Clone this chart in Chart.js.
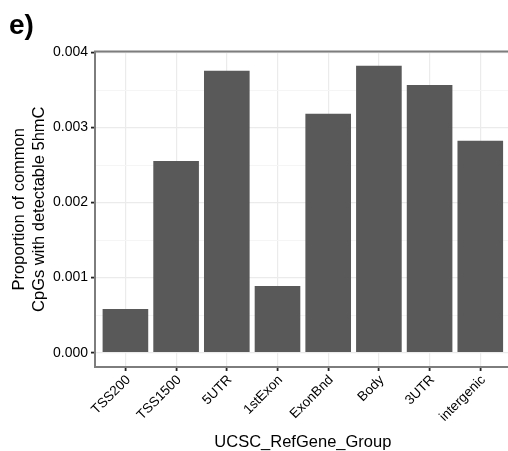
<!DOCTYPE html>
<html>
<head>
<meta charset="utf-8">
<script src="https://cdn.jsdelivr.net/npm/chart.js@4/dist/chart.umd.min.js"></script>
<style>
  html, body { margin: 0; padding: 0; overflow: hidden; background: #fff; }
  #wrap { width: 520px; height: 451px; }
</style>
</head>
<body>
<div id="wrap"><canvas id="c" width="520" height="451"></canvas></div>
<script>
// Gene-region categories and the proportion of common CpGs with detectable 5hmC
const groups = ['TSS200', 'TSS1500', '5UTR', '1stExon', 'ExonBnd', 'Body', '3UTR', 'intergenic'];
const proportion = [0.000583, 0.002556, 0.003756, 0.000889, 0.003183, 0.003823, 0.003569, 0.002823];
const yMajorTicks = [0, 0.001, 0.002, 0.003, 0.004];
const yMinorTicks = [0.0005, 0.0015, 0.0025, 0.0035];

const FONT = '"Liberation Sans", Arial, Helvetica, sans-serif';
const isMinor = v => Math.abs(v * 1000 - Math.round(v * 1000)) > 1e-6;

// Panel border, drawn on top of the bars like a ggplot panel frame
const panelBorder = {
  id: 'panelBorder',
  afterDatasetsDraw(chart) {
    const { ctx, chartArea: a } = chart;
    ctx.save();
    ctx.strokeStyle = '#7d7d7d';
    ctx.lineWidth = 2;
    ctx.strokeRect(a.left, a.top, a.right - a.left, a.bottom - a.top);
    ctx.restore();
  }
};

// Panel tag and axis titles
const titles = {
  id: 'titles',
  afterDraw(chart) {
    const { ctx, chartArea: a } = chart;
    ctx.save();
    ctx.fillStyle = '#000';
    ctx.font = 'bold 28px ' + FONT;
    ctx.textAlign = 'left';
    ctx.textBaseline = 'alphabetic';
    ctx.fillText('e)', 9, 34);

    ctx.font = '16.5px ' + FONT;
    ctx.textAlign = 'center';
    ctx.fillText('UCSC_RefGene_Group', (a.left + a.right) / 2, 447);

    const cy = (a.top + a.bottom) / 2;
    ctx.translate(0, cy);
    ctx.rotate(-Math.PI / 2);
    ctx.fillText('Proportion of common', 0, 23.5);
    ctx.fillText('CpGs with detectable 5hmC', 0, 44);
    ctx.restore();
  }
};

new Chart(document.getElementById('c'), {
  type: 'bar',
  data: {
    datasets: [{
      data: proportion.map((v, i) => ({ x: i, y: v })),
      backgroundColor: '#595959',
      borderWidth: 0,
      categoryPercentage: 1,
      barPercentage: 0.9
    }]
  },
  options: {
    responsive: false,
    animation: false,
    devicePixelRatio: 1,
    layout: { padding: { top: 51.5, right: 9.3, left: 0, bottom: 0 } },
    plugins: { legend: { display: false }, tooltip: { enabled: false } },
    scales: {
      x: {
        type: 'linear',
        offset: false,
        min: -0.6,
        max: groups.length - 1 + 0.6,
        afterBuildTicks: s => { s.ticks = groups.map((_, i) => ({ value: i })); },
        afterFit: s => { s.height = 84; s.paddingLeft = 0; s.paddingRight = 0; },
        ticks: {
          autoSkip: false,
          minRotation: 45,
          maxRotation: 45,
          padding: 1,
          labelOffset: 3,
          color: '#000',
          font: { family: FONT, size: 13.5 },
          callback: v => groups[v]
        },
        grid: {
          offset: false,
          color: '#ebebeb',
          lineWidth: 1.2,
          drawTicks: true,
          tickLength: 4,
          tickWidth: 1.8,
          tickColor: '#222'
        },
        border: { display: false }
      },
      y: {
        min: -0.05 * Math.max(...proportion),
        max: 1.05 * Math.max(...proportion),
        afterBuildTicks: s => {
          s.ticks = [...yMajorTicks, ...yMinorTicks].sort((p, q) => p - q).map(v => ({ value: v }));
        },
        afterFit: s => { s.width = 95; s.paddingTop = 0; s.paddingBottom = 0; },
        ticks: {
          padding: 3,
          color: '#000',
          font: { family: FONT, size: 14 },
          callback: v => (isMinor(v) ? '' : v.toFixed(3))
        },
        grid: {
          color: c => (c.tick && isMinor(c.tick.value) ? '#f5f5f5' : '#ebebeb'),
          lineWidth: c => (c.tick && isMinor(c.tick.value) ? 1 : 1.2),
          drawTicks: true,
          tickLength: 4,
          tickWidth: 1.8,
          tickColor: c => (c.tick && isMinor(c.tick.value) ? 'rgba(0,0,0,0)' : '#222')
        },
        border: { display: false }
      }
    }
  },
  plugins: [panelBorder, titles]
});
</script>
</body>
</html>
